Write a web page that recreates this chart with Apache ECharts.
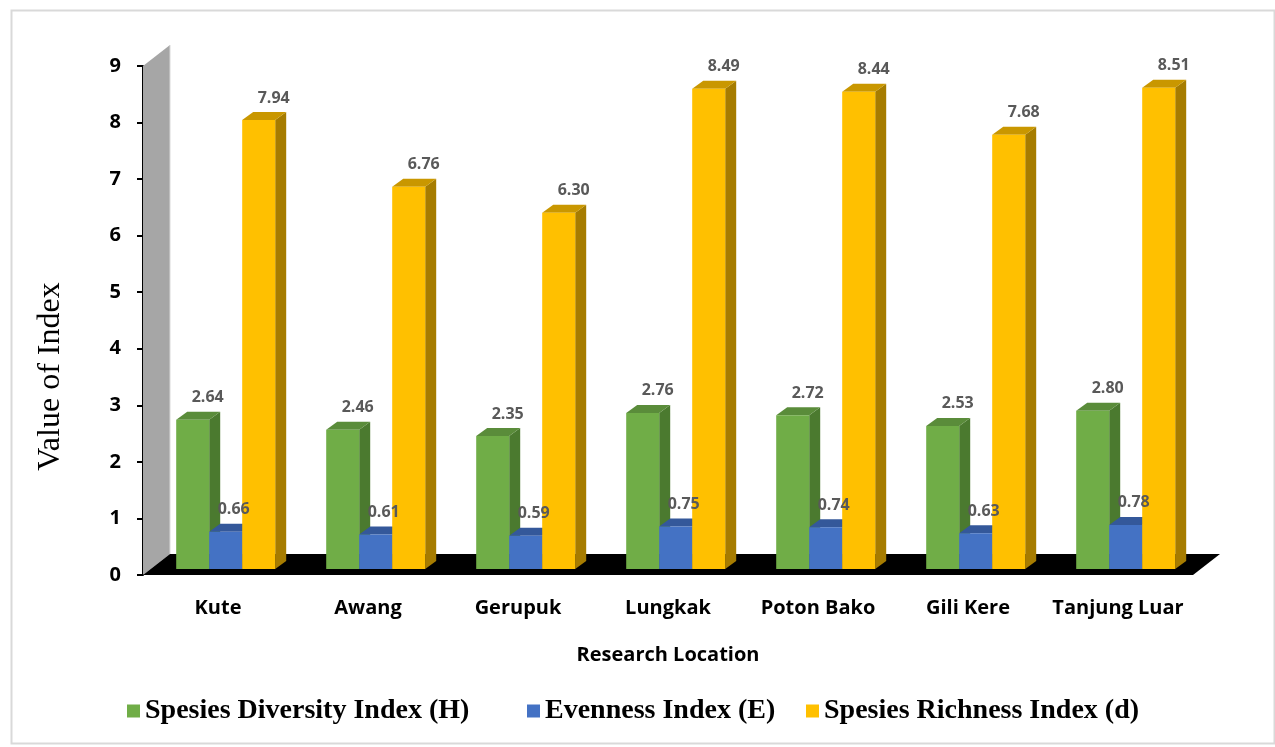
<!DOCTYPE html>
<html>
<head>
<meta charset="utf-8">
<script src="https://cdn.jsdelivr.net/npm/echarts@6/dist/echarts.min.js"></script>
<style>
  html, body { margin: 0; padding: 0; background: #ffffff; }
  #chart { width: 1275px; height: 747px; }
</style>
</head>
<body>
<div id="chart"></div>
<script>
// Biodiversity indices per research location
const categories = ['Kute', 'Awang', 'Gerupuk', 'Lungkak', 'Poton Bako', 'Gili Kere', 'Tanjung Luar'];
const diversityH = [2.64, 2.46, 2.35, 2.76, 2.72, 2.53, 2.80];
const evennessE = [0.66, 0.61, 0.59, 0.75, 0.74, 0.63, 0.78];
const richnessD = [7.94, 6.76, 6.30, 8.49, 8.44, 7.68, 8.51];
const seriesNames = ['Spesies Diversity Index (H)', 'Evenness Index (E)', 'Spesies Richness Index (d)'];
const yTicks = [0, 1, 2, 3, 4, 5, 6, 7, 8, 9];

// Pseudo-3D geometry (pixels)
const WALL_DX = 27, WALL_DY = -21;   // full depth of wall / floor
const PLANE_DX = 7.7, PLANE_DY = -6; // front plane of the bars
const BAR_DX = 11, BAR_DY = -8;      // bar thickness in depth

const palette = [
  { front: '#70ad47', side: '#4b7a2f', top: '#5a8c3a' },
  { front: '#4472c4', side: '#2f5597', top: '#34589a' },
  { front: '#ffc000', side: '#a67c00', top: '#c99700' }
];
const labelShift = [15, 8, 15];

const chart = echarts.init(document.getElementById('chart'), null, { renderer: 'canvas' });

function frameRenderer(params, api) {
  const cs = params.coordSys;
  const x0 = cs.x, x1 = cs.x + cs.width;
  const yTop = api.coord([0, yTicks[yTicks.length - 1]])[1];
  const yBase = api.coord([0, 0])[1];
  return {
    type: 'group',
    children: [
      { type: 'polygon', z2: 1,
        shape: { points: [[x0, yTop], [x0 + WALL_DX, yTop + WALL_DY], [x0 + WALL_DX, yBase + WALL_DY], [x0, yBase]] },
        style: { fill: '#a6a6a6' } },
      { type: 'line', z2: 2,
        shape: { x1: x0 + WALL_DX, y1: yTop + WALL_DY, x2: x0 + WALL_DX, y2: yBase + WALL_DY },
        style: { stroke: '#d9d9d9', lineWidth: 1 } },
      { type: 'polygon', z2: 3,
        shape: { points: [[x0, yBase], [x1, yBase], [x1 + WALL_DX, yBase + WALL_DY], [x0 + WALL_DX, yBase + WALL_DY]] },
        style: { fill: '#000000' } }
    ]
  };
}

function barRenderer(slot) {
  const c = palette[slot];
  const zb = 10 + slot * 10;
  return function (params, api) {
    const i = api.value(0), v = api.value(1);
    const band = api.size([1, 0])[0];
    const w = band * 0.22;
    const base = api.coord([i, 0]);
    const top = api.coord([i, v]);
    const xl = base[0] - 1.5 * w + slot * w + PLANE_DX;
    const xr = xl + w;
    const yb = base[1] + PLANE_DY;
    const yt = top[1] + PLANE_DY;
    return {
      type: 'group',
      children: [
        { type: 'polygon', z2: zb,
          shape: { points: [[xr, yt], [xr + BAR_DX, yt + BAR_DY], [xr + BAR_DX, yb + BAR_DY], [xr, yb]] },
          style: { fill: c.side } },
        { type: 'polygon', z2: zb + 1,
          shape: { points: [[xl, yt], [xl + BAR_DX, yt + BAR_DY], [xr + BAR_DX, yt + BAR_DY], [xr, yt]] },
          style: { fill: c.top } },
        { type: 'rect', z2: zb + 2,
          shape: { x: xl, y: yt, width: w, height: yb - yt },
          style: { fill: c.front } },
        { type: 'text', z2: 100,
          style: {
            x: (xl + xr) / 2 + labelShift[slot], y: yt - 22,
            text: v.toFixed(2), align: 'center', verticalAlign: 'middle',
            fill: '#595959', font: 'bold 16px "Open Sans", sans-serif'
          } }
      ]
    };
  };
}

const seriesData = [diversityH, evennessE, richnessD];

const legendTextStyle = {
  fontFamily: '"Liberation Serif", "Times New Roman", serif',
  fontWeight: 'bold', fontSize: 28, color: '#000000'
};
const legendLefts = [127, 527, 806];

const option = {
  backgroundColor: '#ffffff',
  animation: false,
  grid: { left: 143, right: 82, top: 66, bottom: 172, containLabel: false },
  xAxis: {
    type: 'category',
    data: categories,
    axisLine: { show: false },
    axisTick: { show: false },
    axisLabel: {
      interval: 0, margin: 23, color: '#000000',
      fontFamily: '"Open Sans", sans-serif', fontWeight: 'bold', fontSize: 20
    },
    name: 'Research Location',
    nameLocation: 'middle',
    nameGap: 70,
    nameTextStyle: { color: '#000000', fontFamily: '"Open Sans", sans-serif', fontWeight: 'bold', fontSize: 20 }
  },
  yAxis: {
    type: 'value',
    min: yTicks[0], max: yTicks[yTicks.length - 1], interval: 1,
    splitLine: { show: false },
    axisLine: { show: true, lineStyle: { color: '#000000', width: 2 } },
    axisTick: { show: true, length: 6, lineStyle: { color: '#000000', width: 2 } },
    axisLabel: {
      margin: 22, color: '#000000',
      fontFamily: '"Open Sans", sans-serif', fontWeight: 'bold', fontSize: 20
    },
    name: 'Value of Index',
    nameLocation: 'middle',
    nameGap: 76,
    nameTextStyle: {
      color: '#000000', fontFamily: '"Liberation Serif", "Times New Roman", serif', fontSize: 32,
      padding: [0, 112, 0, 0]
    }
  },
  legend: seriesNames.map((name, k) => ({
    data: [name],
    left: legendLefts[k],
    top: 697,
    padding: 0,
    icon: 'rect',
    itemWidth: 13, itemHeight: 13,
    itemGap: 0,
    textStyle: legendTextStyle
  })),
  graphic: [{
    type: 'rect', left: 9, top: 8, silent: true,
    shape: { width: 1263, height: 733 },
    style: { fill: 'none', stroke: '#d9d9d9', lineWidth: 2 }
  }],
  series: [
    {
      type: 'custom', name: 'frame', silent: true,
      renderItem: frameRenderer,
      data: [[0, 0]],
      encode: { x: 0, y: 1 }
    }
  ].concat(seriesNames.map((name, k) => ({
    type: 'custom',
    name: name,
    itemStyle: { color: palette[k].front },
    renderItem: barRenderer(k),
    data: categories.map((c, i) => [i, seriesData[k][i]]),
    encode: { x: 0, y: 1 }
  })))
};

chart.setOption(option);
</script>
</body>
</html>
